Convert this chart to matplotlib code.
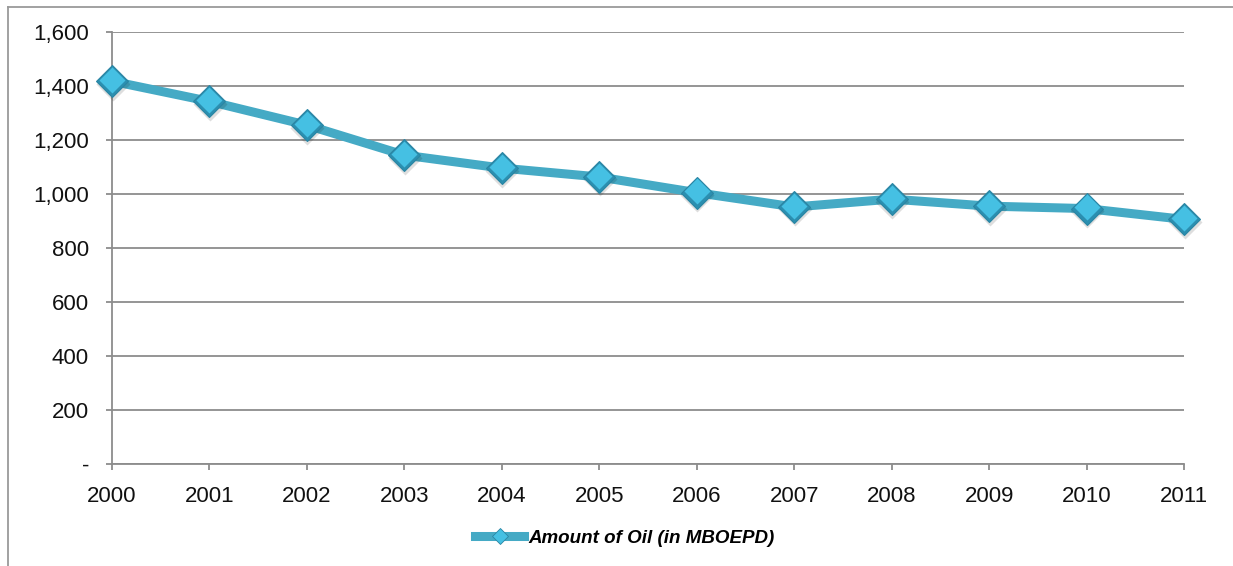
import matplotlib
matplotlib.use("Agg")
import matplotlib.pyplot as plt
from matplotlib.lines import Line2D
from matplotlib.transforms import ScaledTranslation
from matplotlib.ticker import FuncFormatter, MultipleLocator

years = [2000, 2001, 2002, 2003, 2004, 2005, 2006, 2007, 2008, 2009, 2010, 2011]
oil_mboepd = [1418, 1343, 1255, 1144, 1096, 1063, 1005, 952, 981, 955, 946, 906]
series_label = "Amount of Oil (in MBOEPD)"

line_color = "#45aac5"
face_light = "#45c0e3"
face_dark = "#2b8fb0"
edge_color = "#2a85a3"
grid_color = "#8c8c8c"

plt.rcParams["font.family"] = ["Liberation Sans", "DejaVu Sans"]

fig = plt.figure(figsize=(12.33, 5.66), dpi=100)
ax = fig.add_axes([112 / 1233, 1 - 464 / 566, (1184 - 112) / 1233, (464 - 32) / 566])


def shifted(dx_pt, dy_pt):
    return ax.transData + ScaledTranslation(dx_pt / 72, dy_pt / 72, fig.dpi_scale_trans)


# line
ax.plot(years, oil_mboepd, color=line_color, lw=6.5, solid_capstyle="round",
        solid_joinstyle="round", zorder=3, clip_on=False)
# soft shadow under the markers
ax.plot(years, oil_mboepd, ls="none", marker="D", ms=17, mfc="#000000",
        mec="none", alpha=0.13, zorder=4, clip_on=False,
        transform=shifted(0.4, -1.8))
# bevelled diamond markers: darker base with a lighter face on top
ax.plot(years, oil_mboepd, ls="none", marker="D", ms=16.5, mfc=face_dark,
        mec=edge_color, mew=0.8, zorder=5, clip_on=False)
ax.plot(years, oil_mboepd, ls="none", marker="D", ms=13.5, mfc=face_light,
        mec="none", zorder=6, clip_on=False, transform=shifted(0, 0.9))

ax.set_xlim(years[0], years[-1])
ax.set_ylim(0, 1600)
ax.yaxis.set_major_locator(MultipleLocator(200))
ax.set_xticks(years)
ax.set_xticklabels([str(y) for y in years])
ax.yaxis.set_major_formatter(FuncFormatter(lambda v, p: "-" if v == 0 else f"{int(v):,}"))

ax.grid(axis="y", color=grid_color, lw=1.3, zorder=0)
ax.set_axisbelow(True)
for s in ("top", "right"):
    ax.spines[s].set_visible(False)
for s in ("left", "bottom"):
    ax.spines[s].set_color(grid_color)
    ax.spines[s].set_linewidth(1.3)
ax.tick_params(axis="y", length=4.5, width=1.3, color=grid_color, pad=12,
               labelsize=16, labelcolor="#111111")
ax.tick_params(axis="x", length=4.5, width=1.3, color=grid_color, pad=11,
               labelsize=16, labelcolor="#111111")

# legend
handle = Line2D([0], [0], color=line_color, lw=6.5, marker="D", ms=8,
                mfc=face_light, mec=edge_color, mew=0.6)
fig.legend([handle], [series_label], loc="center",
           bbox_to_anchor=(625 / 1233, 1 - 538 / 566), frameon=False,
           handlelength=2.6, handletextpad=0.25,
           prop={"size": 13.5, "weight": "bold", "style": "italic"})

# chart area border (left and top edges)
fig.add_artist(Line2D([8 / 1233, 8 / 1233], [0, 1 - 7 / 566],
                      transform=fig.transFigure, color="#9a9a9a", lw=1.3))
fig.add_artist(Line2D([8 / 1233, 1], [1 - 7 / 566, 1 - 7 / 566],
                      transform=fig.transFigure, color="#9a9a9a", lw=1.3))

fig.savefig("out.png", dpi=100)
